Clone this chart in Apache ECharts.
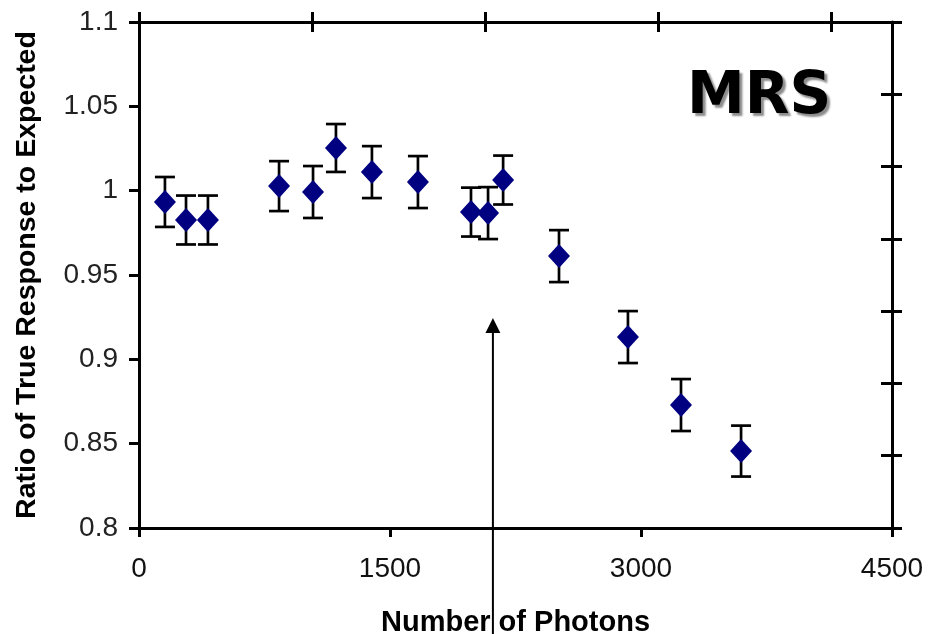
<!DOCTYPE html>
<html><head><meta charset="utf-8">
<script src="https://cdn.jsdelivr.net/npm/echarts@6/dist/echarts.min.js"></script>
<style>html,body{margin:0;padding:0;background:#fff}#c{width:928px;height:634px}</style>
</head><body><div id="c"></div>
<script>
// ---- data ----
const photons = [155, 281, 412, 837, 1040, 1177, 1392, 1667, 1984, 2086, 2176, 2510, 2922, 3239, 3598];
const ratio   = [0.9933, 0.9826, 0.9826, 1.0027, 0.9992, 1.0253, 1.0110, 1.0051, 0.9873, 0.9867, 1.0063, 0.9612, 0.9132, 0.8729, 0.8456];
const errors  = [0.0148, 0.0145, 0.0145, 0.0148, 0.0154, 0.0142, 0.0154, 0.0154, 0.0145, 0.0154, 0.0145, 0.0154, 0.0154, 0.0154, 0.0151];
const xTickValues = [0, 1500, 3000, 4500];
const yTickValues = [0.8, 0.85, 0.9, 0.95, 1, 1.05, 1.1];
const topTickValues = [0, 1034, 2068, 3102, 4136];
const rightTickValues = [0.8, 0.8429, 0.8857, 0.9286, 0.9714, 1.0143, 1.0571, 1.1];
const arrowPhotons = 2115;
const arrowTipRatio = 0.9245;
const xTitle = 'Number of Photons';
const yTitle = 'Ratio of True Response to Expected';
const panelLabel = 'MRS';

const FONT = "'Liberation Sans', Arial, sans-serif";
const chart = echarts.init(document.getElementById('c'), null, {renderer: 'canvas'});

const axisLineStyle = {color: '#000', width: 3};
const tickStyle = {color: '#000', width: 3};

const option = {
  backgroundColor: '#fff',
  animation: false,
  grid: {left: 139, right: 36, top: 22, bottom: 106, containLabel: false, outerBoundsMode: 'none'},
  xAxis: [
    {
      type: 'value', position: 'bottom', min: xTickValues[0], max: xTickValues[xTickValues.length - 1],
      interval: xTickValues[1] - xTickValues[0],
      axisLine: {onZero: false, lineStyle: axisLineStyle},
      axisTick: {show: true, inside: false, length: 9, lineStyle: tickStyle},
      axisLabel: {margin: 27, fontSize: 28, color: '#111', fontFamily: FONT, formatter: v => String(v)},
      splitLine: {show: false},
      name: xTitle, nameLocation: 'middle', nameGap: 80,
      nameTextStyle: {fontSize: 29, fontWeight: 'bold', color: '#000', fontFamily: FONT}
    },
    {
      type: 'value', position: 'top', min: xTickValues[0], max: xTickValues[xTickValues.length - 1],
      axisLine: {onZero: false, lineStyle: axisLineStyle},
      axisTick: {show: true, inside: false, length: 10, customValues: topTickValues, lineStyle: tickStyle},
      axisLabel: {show: false}, splitLine: {show: false}
    },
    {
      type: 'value', position: 'top', min: xTickValues[0], max: xTickValues[xTickValues.length - 1],
      axisLine: {show: false, onZero: false},
      axisTick: {show: true, inside: true, length: 10, customValues: topTickValues, lineStyle: tickStyle},
      axisLabel: {show: false}, splitLine: {show: false}
    }
  ],
  yAxis: [
    {
      type: 'value', position: 'left', min: yTickValues[0], max: yTickValues[yTickValues.length - 1],
      interval: 0.05,
      axisLine: {onZero: false, lineStyle: axisLineStyle},
      axisTick: {show: true, inside: false, length: 10, lineStyle: tickStyle},
      axisLabel: {margin: 21, fontSize: 28, color: '#222', fontFamily: FONT},
      splitLine: {show: false},
      name: yTitle, nameLocation: 'middle', nameGap: 97,
      nameTextStyle: {fontSize: 28.5, fontWeight: 'bold', color: '#000', fontFamily: FONT}
    },
    {
      type: 'value', position: 'right', min: yTickValues[0], max: yTickValues[yTickValues.length - 1],
      axisLine: {onZero: false, lineStyle: axisLineStyle},
      axisTick: {show: true, inside: false, length: 10, customValues: rightTickValues, lineStyle: tickStyle},
      axisLabel: {show: false}, splitLine: {show: false}
    },
    {
      type: 'value', position: 'right', min: yTickValues[0], max: yTickValues[yTickValues.length - 1],
      axisLine: {show: false, onZero: false},
      axisTick: {show: true, inside: true, length: 11, customValues: rightTickValues, lineStyle: tickStyle},
      axisLabel: {show: false}, splitLine: {show: false}
    }
  ],
  series: [
    {
      type: 'custom', xAxisIndex: 0, yAxisIndex: 0, z: 2,
      data: photons.map((x, i) => [x, ratio[i], errors[i]]),
      renderItem: function (params, api) {
        const x = api.value(0), y = api.value(1), e = api.value(2);
        const hi = api.coord([x, y + e]);
        const lo = api.coord([x, y - e]);
        const hw = 10;
        const st = {stroke: '#000', lineWidth: 2.7};
        return {type: 'group', children: [
          {type: 'line', shape: {x1: hi[0], y1: hi[1], x2: lo[0], y2: lo[1]}, style: st},
          {type: 'line', shape: {x1: hi[0] - hw, y1: hi[1], x2: hi[0] + hw, y2: hi[1]}, style: st},
          {type: 'line', shape: {x1: lo[0] - hw, y1: lo[1], x2: lo[0] + hw, y2: lo[1]}, style: st}
        ]};
      }
    },
    {
      type: 'scatter', xAxisIndex: 0, yAxisIndex: 0, z: 3,
      symbol: 'diamond', symbolSize: [22, 24],
      itemStyle: {color: '#000080', opacity: 1},
      data: photons.map((x, i) => [x, ratio[i]])
    }
  ]
};
chart.setOption(option);

const tip = chart.convertToPixel({xAxisIndex: 0, yAxisIndex: 0}, [arrowPhotons, arrowTipRatio]);
chart.setOption({
  graphic: [
    {type: 'line', z: 100, shape: {x1: tip[0], y1: tip[1] + 12, x2: tip[0], y2: chart.getHeight()},
     style: {stroke: '#000', lineWidth: 2}},
    {type: 'polygon', z: 100, shape: {points: [[tip[0], tip[1]], [tip[0] - 7.5, tip[1] + 15], [tip[0] + 7.5, tip[1] + 15]]},
     style: {fill: '#000'}},
    {type: 'text', z: 100, x: 687, y: 98,
     style: {text: panelLabel, fill: '#000', align: 'left', verticalAlign: 'middle',
             font: "bold 58px 'DejaVu Sans', Verdana, sans-serif",
             textShadowColor: '#8c8c8c', textShadowBlur: 2, textShadowOffsetX: 3, textShadowOffsetY: 3}}
  ]
});
</script>
</body></html>
